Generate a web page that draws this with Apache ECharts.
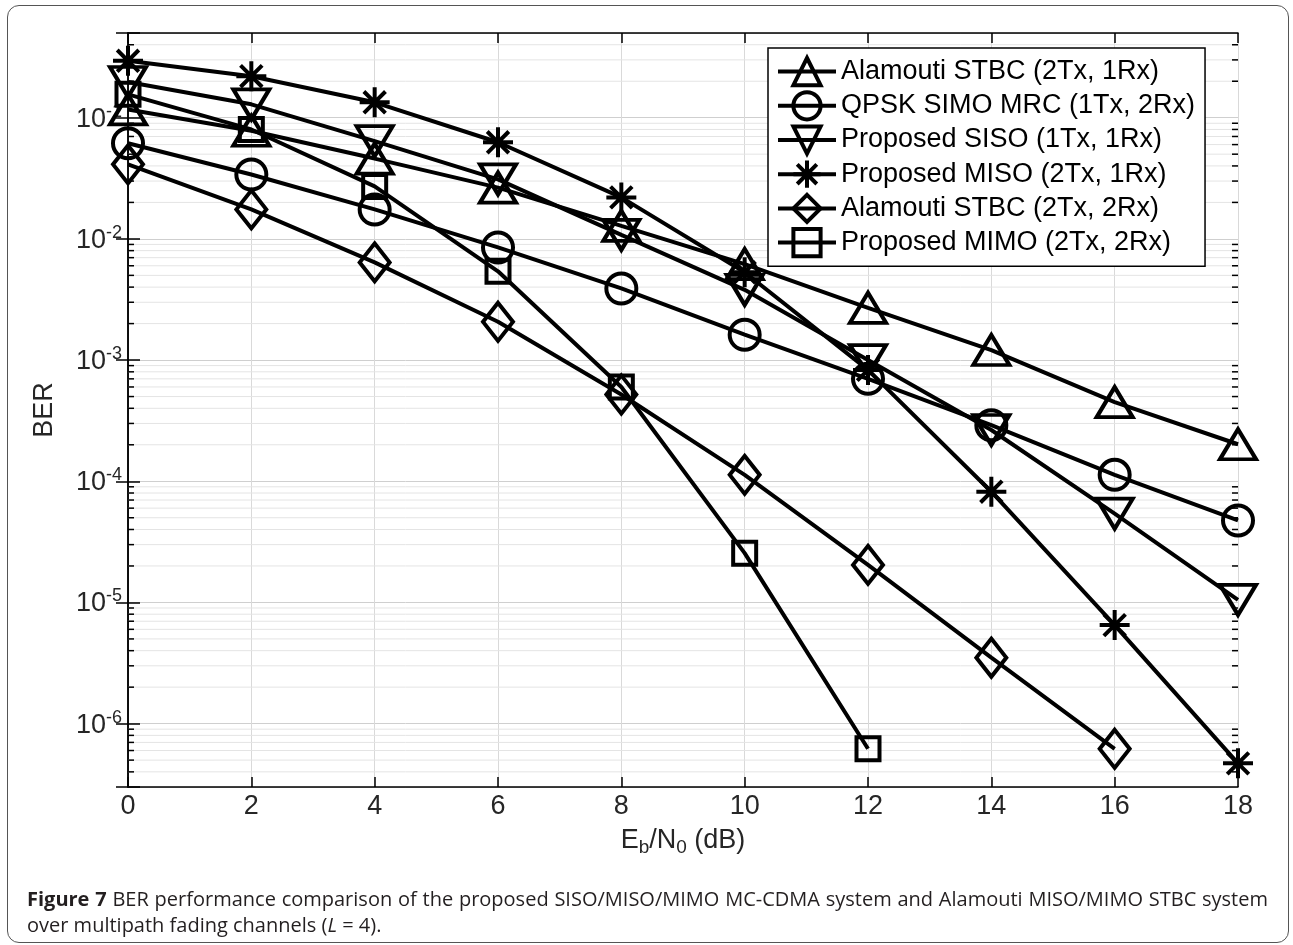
<!DOCTYPE html>
<html>
<head>
<meta charset="utf-8">
<title>BER performance comparison</title>
<script src="https://cdn.jsdelivr.net/npm/echarts@6/dist/echarts.min.js"></script>
<style>
    html, body { margin: 0; padding: 0; background: #fff; }
    #wrap { position: relative; width: 1293px; height: 945px; }
    #frame { position: absolute; left: 7px; top: 5px; width: 1280px; height: 936px;
             border: 1.5px solid #555; border-radius: 12px; }
    #main { position: absolute; left: 0; top: 0; width: 1293px; height: 945px; }
    .cap { position: absolute; left: 27px; width: 1241px; font-family: 'Open Sans', sans-serif;
           font-size: 20px; line-height: 26px; color: #231f20; white-space: nowrap; }
    #cap1 { top: 886px; text-align: justify; text-align-last: justify; }
    #cap2 { top: 912px; }
</style>
</head>
<body>
<div id="wrap">
    <div id="frame"></div>
    <div id="main"></div>
    <div class="cap" id="cap1"><b>Figure 7</b> BER performance comparison of the proposed SISO/MISO/MIMO MC-CDMA system and Alamouti MISO/MIMO STBC system</div>
    <div class="cap" id="cap2">over multipath fading channels (<i>L</i> = 4).</div>
</div>
<script type="text/javascript">
    // Eb/N0 (dB)
    var snr = [0, 2, 4, 6, 8, 10, 12, 14, 16, 18];

    // BER curves
    var berAlamouti21 = [0.117, 0.078, 0.046, 0.0265, 0.0128, 0.0062, 0.0027, 0.00121, 0.00045, 0.000202];
    var berSimoMrc = [0.0615, 0.034, 0.0175, 0.0085, 0.0039, 0.00162, 0.0007, 0.00029, 0.000113, 0.0000475];
    var berSiso = [0.197, 0.129, 0.064, 0.031, 0.0108, 0.0038, 0.001, 0.000265, 0.000054, 0.0000105];
    var berMiso = [0.295, 0.22, 0.134, 0.0627, 0.022, 0.0053, 0.00083, 0.000082, 0.0000065, 0.00000047];
    var berAlamouti22 = [0.0412, 0.0175, 0.0064, 0.00207, 0.00052, 0.000113, 0.0000204, 0.0000035, 0.00000062];
    var berMimo = [0.156, 0.080, 0.0271, 0.0054, 0.0006, 0.0000255, 0.00000062];

    var seriesNames = [
        'Alamouti STBC (2Tx, 1Rx)',
        'QPSK SIMO MRC (1Tx, 2Rx)',
        'Proposed SISO (1Tx, 1Rx)',
        'Proposed MISO (2Tx, 1Rx)',
        'Alamouti STBC (2Tx, 2Rx)',
        'Proposed MIMO (2Tx, 2Rx)'
    ];

    var xTicks = { min: 0, max: 18, step: 2 };
    var yRange = { min: 3e-7, max: 0.5 };

    var FONT = "'Liberation Sans', Arial, sans-serif";
    var TXT = '#262626';
    var LW = 4;

    function pairs(ys) {
        return ys.map(function (y, i) { return [snr[i], y]; });
    }

    // minor log grid positions (2..9 x each decade)
    var minorVals = [];
    for (var e = -7; e <= -1; e++) {
        for (var m = 2; m <= 9; m++) {
            var v = m * Math.pow(10, e);
            if (v > yRange.min * 1.0001 && v < yRange.max * 0.9999) minorVals.push([0, v]);
        }
    }

    function renderMinor(params, api) {
        var y = api.coord([api.value(0), api.value(1)])[1];
        var cs = params.coordSys;
        var x0 = cs.x, x1 = cs.x + cs.width;
        return {
            type: 'group',
            children: [
                { type: 'line', shape: { x1: x0, y1: y, x2: x1, y2: y }, style: { stroke: '#e4e4e4', lineWidth: 1 } },
                { type: 'line', shape: { x1: x0, y1: y, x2: x0 + 6, y2: y }, style: { stroke: '#000', lineWidth: 1.5 } },
                { type: 'line', shape: { x1: x1 - 6, y1: y, x2: x1, y2: y }, style: { stroke: '#000', lineWidth: 1.5 } }
            ]
        };
    }

    function curve(name, ys, symbol, size) {
        return {
            name: name,
            type: 'line',
            data: pairs(ys),
            symbol: symbol,
            symbolSize: size,
            showAllSymbol: true,
            z: 5,
            clip: false,
            lineStyle: { color: '#000', width: LW },
            itemStyle: { color: 'rgba(0,0,0,0)', borderColor: '#000', borderWidth: LW },
            emphasis: { disabled: true }
        };
    }

    var SYM_UP = 'path://M0,-1L1,1L-1,1Z';
    var SYM_DOWN = 'path://M-1,-1L1,-1L0,1Z';
    var SYM_STAR = 'path://M0,-1L0,1M-1,0L1,0M-0.72,-0.72L0.72,0.72M-0.72,0.72L0.72,-0.72';
    var SYM_DIAMOND = 'path://M0,-1L1,0L0,1L-1,0Z';

    function supLabel(v) {
        var lg = Math.log(v) / Math.LN10;
        var k = Math.round(lg);
        if (Math.abs(lg - k) > 1e-6) return '';
        return '{b|10}{s|' + k + '}';
    }

    var axisLineStyle = { show: true, lineStyle: { color: '#000', width: 1.5 } };

    var myChart = echarts.init(document.getElementById('main'));
    var option = {
        animation: false,
        grid: { left: 128, top: 33, width: 1110, height: 754, containLabel: false },
        legend: {
            orient: 'vertical',
            left: 768,
            top: 48,
            itemWidth: 58,
            itemHeight: 34,
            itemGap: 3,
            padding: [8, 10, 8, 8],
            backgroundColor: '#fff',
            borderColor: '#000',
            borderWidth: 1.5,
            lineStyle: { width: LW },
            itemStyle: { borderWidth: LW },
            textStyle: { fontSize: 27, color: '#000', fontFamily: FONT },
            data: seriesNames
        },
        xAxis: [{
            type: 'value',
            min: xTicks.min, max: xTicks.max, interval: xTicks.step,
            position: 'bottom',
            axisLine: axisLineStyle,
            axisTick: { inside: true, length: 10, lineStyle: { color: '#000', width: 1.5 } },
            axisLabel: { fontSize: 27, color: TXT, fontFamily: FONT, margin: 6 },
            splitLine: { show: true, lineStyle: { color: '#d9d9d9', width: 1 } },
            name: '{n|E}{sub|b}{n|/N}{sub|0}{n| (dB)}',
            nameLocation: 'middle',
            nameGap: 40,
            nameTextStyle: {
                rich: {
                    n: { fontSize: 27, color: TXT, fontFamily: FONT, lineHeight: 30, verticalAlign: 'top' },
                    sub: { fontSize: 19, color: TXT, fontFamily: FONT, lineHeight: 19, verticalAlign: 'bottom' }
                }
            }
        }, {
            type: 'value',
            min: xTicks.min, max: xTicks.max, interval: xTicks.step,
            position: 'top',
            axisLine: axisLineStyle,
            axisTick: { inside: true, length: 10, lineStyle: { color: '#000', width: 1.5 } },
            axisLabel: { show: false },
            splitLine: { show: false }
        }],
        yAxis: [{
            type: 'log',
            logBase: 10,
            min: yRange.min, max: yRange.max,
            position: 'left',
            axisLine: axisLineStyle,
            axisTick: { inside: true, length: 12, lineStyle: { color: '#000', width: 1.5 } },
            splitLine: { show: true, lineStyle: { color: '#cfcfcf', width: 1 } },
            axisLabel: {
                margin: 6,
                formatter: supLabel,
                rich: {
                    b: { fontSize: 27, color: TXT, fontFamily: FONT, lineHeight: 30, verticalAlign: 'bottom' },
                    s: { fontSize: 18, color: TXT, fontFamily: FONT, lineHeight: 18, verticalAlign: 'top' }
                }
            },
            name: 'BER',
            nameLocation: 'middle',
            nameGap: 70,
            nameTextStyle: { fontSize: 27, color: TXT, fontFamily: FONT }
        }, {
            type: 'log',
            logBase: 10,
            min: yRange.min, max: yRange.max,
            position: 'right',
            axisLine: axisLineStyle,
            axisTick: { inside: true, length: 12, lineStyle: { color: '#000', width: 1.5 } },
            axisLabel: { show: false },
            splitLine: { show: false }
        }],
        series: [
            {
                type: 'custom',
                name: 'minor',
                data: minorVals,
                renderItem: renderMinor,
                silent: true,
                z: 1
            },
            curve(seriesNames[0], berAlamouti21, SYM_UP, [36, 30]),
            curve(seriesNames[1], berSimoMrc, 'circle', 30),
            curve(seriesNames[2], berSiso, SYM_DOWN, [36, 30]),
            curve(seriesNames[3], berMiso, SYM_STAR, 30),
            curve(seriesNames[4], berAlamouti22, SYM_DIAMOND, [30, 38]),
            curve(seriesNames[5], berMimo, 'rect', 23)
        ]
    };
    myChart.setOption(option);
</script>
</body>
</html>
